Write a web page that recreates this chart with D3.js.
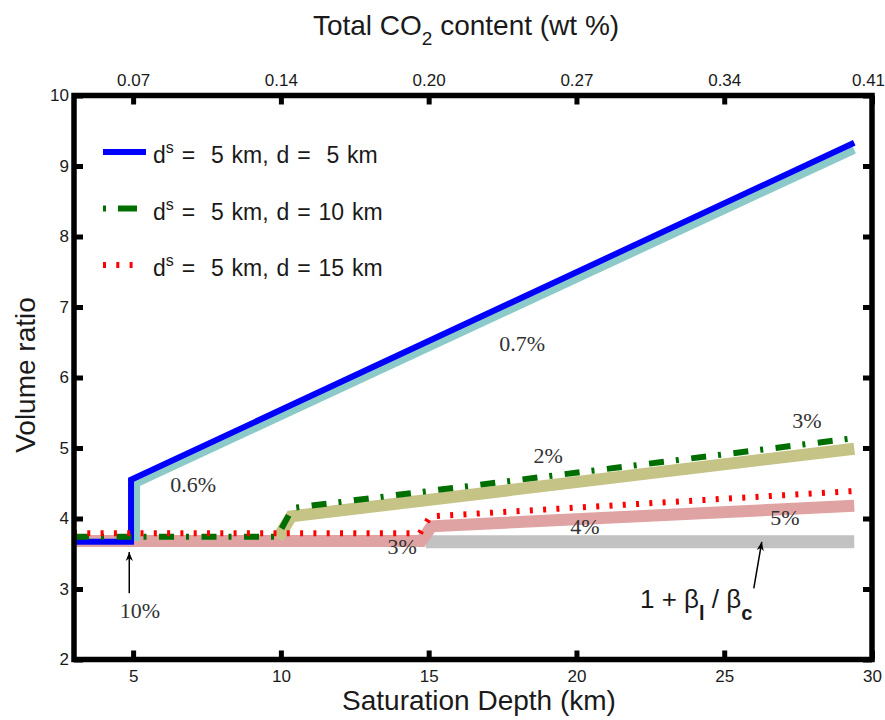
<!DOCTYPE html>
<html>
<head>
<meta charset="utf-8">
<script src="https://cdn.jsdelivr.net/npm/d3@7"></script>
<style>
body { margin: 0; background: #fff; }
</style>
</head>
<body>
<svg></svg>
<script>
// axis ticks
const depthTicks = [5, 10, 15, 20, 25, 30];
const co2Labels = ['0.07', '0.14', '0.20', '0.27', '0.34', '0.41'];
const ratioTicks = [2, 3, 4, 5, 6, 7, 8, 9, 10];

// wide pale bands (analytical curves)
const grayDepth = [14.9, 29.4];
const grayRatio = [3.67, 3.67];
const pinkDepth = [3, 14.75, 15.1, 29.4];
const pinkRatio = [3.68, 3.68, 3.89, 4.18];
const oliveDepth = [9.9, 10.35, 29.4];
const oliveRatio = [3.72, 4.03, 4.99];
const tealDepth = [5.1, 5.1, 29.4];
const tealRatio = [3.68, 4.50, 9.23];

// model curves
const blueDepth = [3, 4.93, 4.93, 29.4];
const blueRatio = [3.67, 3.67, 4.55, 9.33];
const greenDepth = [3, 9.87, 10.4, 29.4];
const greenRatio = [3.74, 3.74, 4.15, 5.14];
const redDepth = [3, 14.7, 15.05, 29.4];
const redRatio = [3.79, 3.79, 4.03, 4.39];

const legendLabels = [' =  5 km, d =  5 km', ' =  5 km, d = 10 km', ' =  5 km, d = 15 km'];

// percent annotations
const noteText = ['0.7%', '0.6%', '3%', '2%', '4%', '5%', '3%', '10%'];
const noteDepth = [18.16, 7.03, 27.8, 19.04, 20.29, 27.05, 14.1, 5.23];
const noteRatio = [6.49, 4.48, 5.40, 4.90, 3.89, 4.02, 3.60, 2.70];

const width = 885;
const height = 720;

const svg = d3.select('svg')
	.attr('width', width)
	.attr('height', height)
	.attr('font-family', '"Liberation Sans", Arial, sans-serif');

const x = d3.scaleLinear().domain([3, 30]).range([74, 872]);
const y = d3.scaleLinear().domain([2, 10]).range([659.5, 95.5]);

const zip = (xs, ys) => xs.map((d, i) => [d, ys[i]]);
const line = d3.line().x(d => x(d[0])).y(d => y(d[1]));

// bands
const bands = [
	{pts: zip(grayDepth, grayRatio), color: '#c2c2c2', w: 13},
	{pts: zip(pinkDepth, pinkRatio), color: '#e0a3a3', w: 12},
	{pts: zip(oliveDepth, oliveRatio), color: '#c6c386', w: 12},
	{pts: zip(tealDepth, tealRatio), color: '#8ccaca', w: 8}
];
svg.append('g')
	.selectAll('path')
	.data(bands)
	.enter().append('path')
		.attr('d', d => line(d.pts))
		.attr('fill', 'none')
		.attr('stroke', d => d.color)
		.attr('stroke-width', d => d.w);

const curves = [
	{pts: zip(blueDepth, blueRatio), color: '#0000ff', w: 6, dash: null},
	{pts: zip(greenDepth, greenRatio), color: '#006f00', w: 6, dash: '15,12,3,12.5'},
	{pts: zip(redDepth, redRatio), color: '#ff0000', w: 6, dash: '3,10.3'}
];
svg.append('g')
	.selectAll('path')
	.data(curves)
	.enter().append('path')
		.attr('d', d => line(d.pts))
		.attr('fill', 'none')
		.attr('stroke', d => d.color)
		.attr('stroke-width', d => d.w)
		.attr('stroke-dasharray', d => d.dash);

// axes
function styleAxis(g) {
	g.attr('font-family', null).attr('font-size', 17);
	g.select('.domain').remove();
	g.selectAll('.tick line').attr('stroke', '#000').attr('stroke-width', 5);
	g.selectAll('.tick text').attr('fill', '#1a1a1a');
}
svg.append('g')
	.attr('transform', `translate(0,${y(2)})`)
	.call(d3.axisBottom(x).tickValues(depthTicks).tickSize(-9).tickPadding(10).tickFormat(d3.format('d')))
	.call(styleAxis);
const topAxis = svg.append('g')
	.attr('transform', `translate(0,${y(10)})`)
	.call(d3.axisTop(x).tickValues(depthTicks).tickSize(-9).tickPadding(9.5)
		.tickFormat((d, i) => co2Labels[i]))
	.call(styleAxis);
topAxis.selectAll('.tick text').filter(d => d === 30).attr('dx', -4);
svg.append('g')
	.attr('transform', `translate(${x(3)},0)`)
	.call(d3.axisLeft(y).tickValues(ratioTicks).tickSize(-9).tickPadding(5).tickFormat(d3.format('d')))
	.call(styleAxis);
svg.append('g')
	.attr('transform', `translate(${x(30)},0)`)
	.call(d3.axisRight(y).tickValues(ratioTicks).tickSize(-9).tickFormat(''))
	.call(styleAxis);

svg.append('rect')
	.attr('x', x(3)).attr('y', y(10))
	.attr('width', x(30) - x(3)).attr('height', y(2) - y(10))
	.attr('fill', 'none').attr('stroke', '#000').attr('stroke-width', 5.5);

// axis titles
const topTitle = svg.append('text')
	.attr('x', 466).attr('y', 35)
	.attr('text-anchor', 'middle').attr('font-size', 28).attr('fill', '#1a1a1a')
	.text('Total CO');
topTitle.append('tspan').attr('font-size', 19).attr('dy', 10).text('2');
topTitle.append('tspan').attr('dy', -10).text(' content (wt %)');

svg.append('text')
	.attr('x', 479).attr('y', 710)
	.attr('text-anchor', 'middle').attr('font-size', 28).attr('fill', '#1a1a1a')
	.text('Saturation Depth (km)');

svg.append('text')
	.attr('transform', 'translate(35,375) rotate(-90)')
	.attr('text-anchor', 'middle').attr('font-size', 28).attr('fill', '#1a1a1a')
	.text('Volume ratio');

// legend
const legend = svg.append('g');
curves.forEach((c, i) => {
	const ly = 152 + i * 56.5;
	legend.append('line')
		.attr('x1', 103).attr('x2', i === 0 ? 146 : 137)
		.attr('y1', ly).attr('y2', ly)
		.attr('stroke', c.color).attr('stroke-width', c.w)
		.attr('stroke-dasharray', i === 1 ? '3,12,19' : c.dash);
	const t = legend.append('text')
		.attr('x', 153).attr('y', ly + 11)
		.attr('font-size', 23).attr('fill', '#1a1a1a')
		.attr('word-spacing', 1.5)
		.style('white-space', 'pre')
		.text('d');
	t.append('tspan').attr('font-size', 16).attr('dy', -10).text('s');
	t.append('tspan').attr('dy', 10).text(legendLabels[i]);
});

// annotations
svg.append('g')
	.selectAll('text')
	.data(noteText)
	.enter().append('text')
		.attr('x', (d, i) => x(noteDepth[i]))
		.attr('y', (d, i) => y(noteRatio[i]))
		.attr('dy', '0.35em')
		.attr('text-anchor', 'middle')
		.attr('font-family', '"Liberation Serif", "Times New Roman", serif')
		.attr('font-size', 22)
		.attr('fill', '#333')
		.text(d => d);

svg.append('defs').append('marker')
	.attr('id', 'head')
	.attr('viewBox', '0 0 10 10')
	.attr('refX', 10).attr('refY', 5)
	.attr('markerWidth', 9).attr('markerHeight', 9)
	.attr('markerUnits', 'userSpaceOnUse')
	.attr('orient', 'auto')
	.append('path')
		.attr('d', 'M0,1 L10,5 L0,9 L3,5 Z')
		.attr('fill', '#000');

const arrows = [[4.87, 2.94, 4.87, 3.525], [26.0, 3.01, 26.27, 3.67]];
svg.append('g')
	.selectAll('line')
	.data(arrows)
	.enter().append('line')
		.attr('x1', d => x(d[0])).attr('y1', d => y(d[1]))
		.attr('x2', d => x(d[2])).attr('y2', d => y(d[3]))
		.attr('stroke', '#000').attr('stroke-width', 1.5)
		.attr('marker-end', 'url(#head)');

const beta = svg.append('text')
	.attr('x', x(22.15)).attr('y', y(2.73))
	.attr('font-size', 26).attr('fill', '#1a1a1a')
	.style('white-space', 'pre')
	.text('1 + β');
beta.append('tspan').attr('font-size', 20).attr('font-weight', 'bold').attr('dy', 12).text('l');
beta.append('tspan').attr('dy', -12).text(' / β');
beta.append('tspan').attr('font-size', 20).attr('font-weight', 'bold').attr('dy', 12).text('c');
</script>
</body>
</html>
